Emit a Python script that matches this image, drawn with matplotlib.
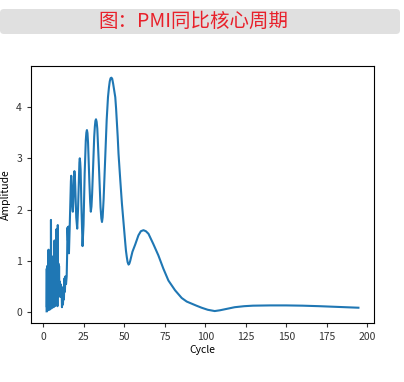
import matplotlib
matplotlib.use("Agg")
import matplotlib.pyplot as plt
from matplotlib.patches import FancyBboxPatch

plt.rcParams['font.family'] = ['Noto Sans CJK SC', 'DejaVu Sans']

# 周期(横轴)
cycle_noise = [2.0, 2.1, 2.2, 2.3, 2.45, 2.6, 2.75, 2.9, 3.05, 3.2, 3.35, 3.5, 3.65,
               3.8, 3.95, 4.1, 4.25, 4.4, 4.55, 4.7, 4.85, 5.0, 5.15, 5.3, 5.5, 5.7,
               5.9, 6.1, 6.3, 6.5, 6.7, 6.9, 7.1, 7.3, 7.5, 7.7, 7.9, 8.1, 8.3, 8.5,
               8.7, 8.9, 9.1, 9.3, 9.5, 9.7, 9.9, 10.1, 10.3, 10.6, 10.9, 11.2, 11.5,
               11.8, 12.1, 12.4, 12.7, 13.0, 13.3, 13.6, 14.0, 14.4, 14.7, 14.9, 15.2,
               15.5, 15.8]
amp_noise = [0.02, 0.85, 0.10, 0.90, 0.03, 0.60, 0.05, 0.95, 0.15, 1.22, 0.08, 0.70, 0.05,
             1.00, 0.20, 0.85, 0.06, 1.20, 0.10, 1.80, 0.30, 1.10, 0.08, 0.90, 0.15, 1.05,
             0.35, 0.75, 0.10, 1.05, 0.20, 1.40, 0.12, 0.85, 0.30, 1.25, 0.15, 1.62, 0.40, 1.10,
             0.12, 1.70, 0.35, 0.95, 0.30, 0.90, 0.40, 0.60, 0.35, 0.55, 0.30, 0.50, 0.10,
             0.45, 0.15, 0.40, 0.25, 0.66, 0.40, 0.70, 0.55, 0.70, 1.15, 1.65, 1.40,
             1.67, 1.15]

cycle_smooth = [16.3, 16.8, 17.0, 17.2, 17.4, 17.6, 17.9, 18.2, 18.5, 18.9, 19.05, 19.2,
                19.4, 19.7, 20.3, 20.9, 21.4, 22.0, 22.25, 22.5, 22.75, 23.0, 23.6, 24.2,
                24.8, 25.5, 26.2, 26.55, 26.9, 27.25, 27.6, 28.4, 28.9, 29.3, 29.7, 30.1,
                31.0, 31.4, 31.8, 32.15, 32.5, 32.9, 33.3, 34.3, 35.3, 35.8, 36.2, 36.6,
                37.2, 38.3, 39.1, 39.9, 40.5, 41.0, 41.5, 42.0, 42.5, 43.1, 43.6, 44.4,
                44.9, 45.4, 45.9, 46.4, 47.0, 47.5, 48.0, 48.5, 49.0, 49.5, 50.0, 50.6,
                51.0, 51.5, 52.0, 52.6, 53.1, 53.6, 55.0, 56.7, 58.7, 60.2, 61.8, 63.3,
                64.9, 67.9, 71.0, 74.1, 77.2, 81.3, 85.4, 88.5, 91.5, 94.5, 97.7, 101.5,
                105.8, 109.0, 112.0, 118.1, 124.0, 129.4, 140.0, 149.9, 160.0, 170.3,
                182.0, 194.5]
amp_smooth = [1.70, 2.35, 2.55, 2.66, 2.58, 2.40, 2.05, 1.96, 2.15, 2.62, 2.72, 2.75,
              2.68, 2.45, 1.85, 1.63, 2.00, 2.70, 2.92, 3.00, 2.92, 2.78, 1.95, 1.29,
              1.70, 2.70, 3.35, 3.50, 3.55, 3.49, 3.30, 2.55, 2.15, 1.96, 2.06, 2.30,
              3.10, 3.42, 3.62, 3.73, 3.76, 3.71, 3.58, 2.85, 2.05, 1.83, 1.76, 1.85,
              2.20, 3.09, 3.75, 4.19, 4.38, 4.50, 4.56, 4.57, 4.55, 4.45, 4.35, 4.19,
              3.97, 3.70, 3.42, 3.09, 2.82, 2.57, 2.33, 2.12, 1.93, 1.75, 1.55, 1.34,
              1.20, 1.08, 0.98, 0.93, 0.95, 1.00, 1.18, 1.32, 1.50, 1.58, 1.60, 1.58,
              1.53, 1.33, 1.11, 0.85, 0.62, 0.43, 0.28, 0.21, 0.17, 0.13, 0.09, 0.05,
              0.025, 0.04, 0.06, 0.10, 0.12, 0.13, 0.135, 0.135, 0.13, 0.12,
              0.105, 0.09]

cycle = cycle_noise + cycle_smooth
amplitude = amp_noise + amp_smooth

fig = plt.figure(figsize=(4.04, 3.82), dpi=100)

# 顶部标题栏
banner = FancyBboxPatch((0.0, 1 - 34 / 382), 400 / 404, 25 / 382,
                        boxstyle="round,pad=0,rounding_size=0.01",
                        transform=fig.transFigure, facecolor='#e0e0e0',
                        edgecolor='none', zorder=0)
fig.patches.append(banner)
fig.text(193 / 404, 1 - 21.5 / 382, '图：PMI同比核心周期', color='#e8202a',
         fontsize=14, ha='center', va='center')

ax = fig.add_axes([31 / 404, 1 - 323 / 382, 343 / 404, 257 / 382])
ax.plot(cycle, amplitude, color='#1f77b4', linewidth=1.5)
ax.set_xticks([0, 25, 50, 75, 100, 125, 150, 175, 200])
ax.set_yticks([0, 1, 2, 3, 4])
ax.tick_params(labelsize=7.5, length=3, colors='#333333')
ax.set_xlabel('Cycle', fontsize=7.5, labelpad=2)
ax.set_ylabel('Amplitude', fontsize=7.5, labelpad=4)

fig.savefig('out.png', dpi=100)
